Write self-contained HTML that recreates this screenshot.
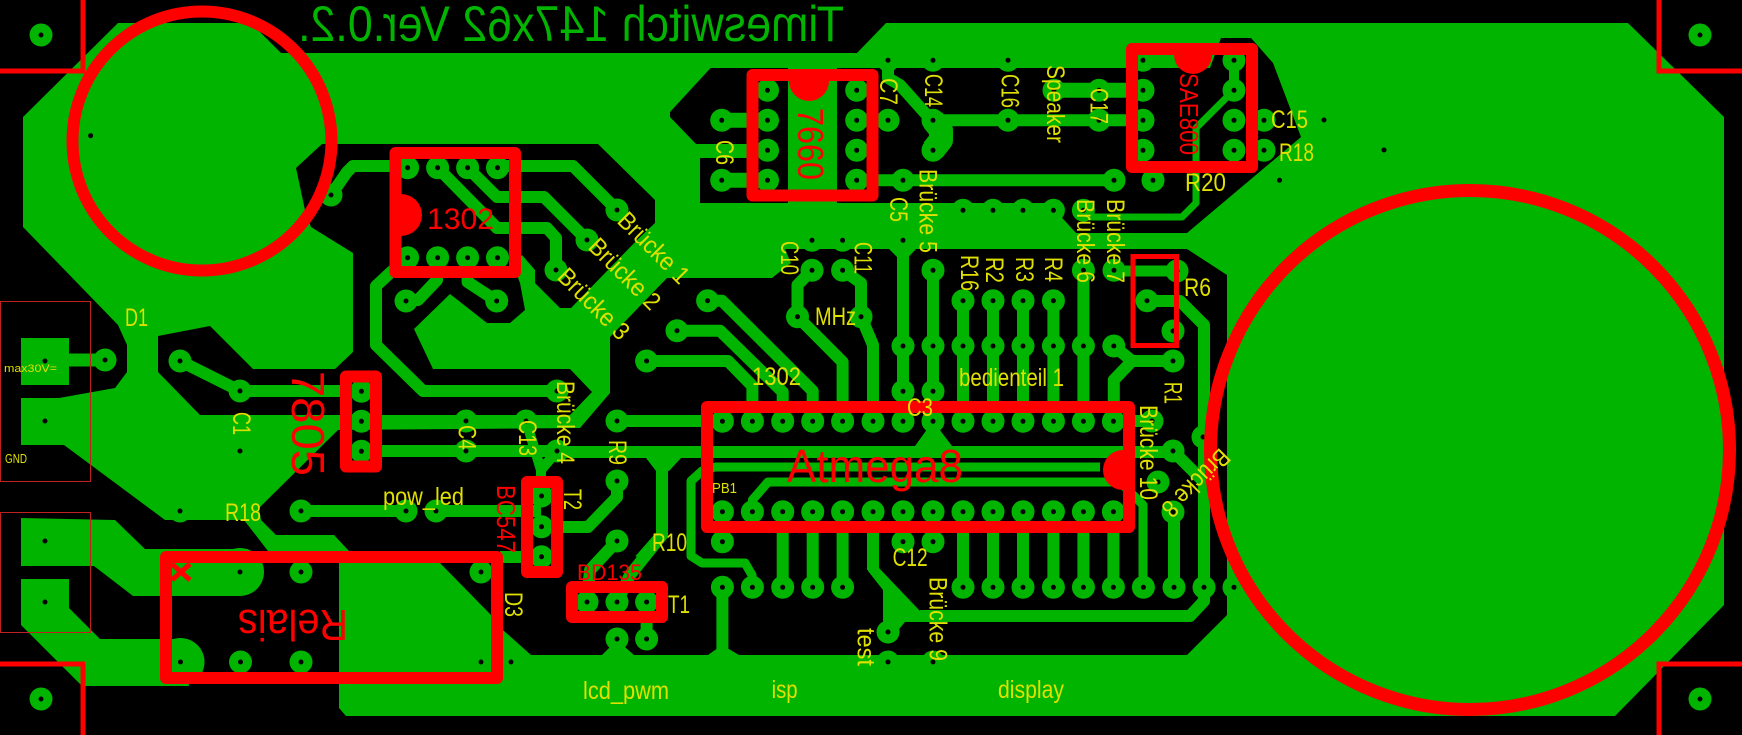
<!DOCTYPE html>
<html><head><meta charset="utf-8"><style>
html,body{margin:0;padding:0;background:#000}
svg{display:block}
text{font-family:"Liberation Sans",sans-serif}
.y{fill:#e0e000;font-size:25px}
.r{fill:#ff0000}
</style></head><body>
<svg width="1742" height="735" viewBox="0 0 1742 735" xmlns="http://www.w3.org/2000/svg">
<rect width="1742" height="735" fill="#000"/>
<!-- pour hull -->
<polygon fill="#00b400" points="118,23 251,23 281,53 857,53 886,23 1628,23 1724,117 1724,605 1615,716 346,716 339,708 339,551 268,551 244,520 165,520 64,445 21,445 21,398 59,398 115,388 127,372 127,345 118,325 23,227 23,117"/>
<!-- cutouts -->
<polygon fill="#000" points="710.6,68 1210,68 1221,38 1251,38 1273,63 1301,137 1187,233 1076,233 1055,210 1050,203 700,203 700,158 750,158 750,144 696,144 670,117 670,112"/>
<polygon fill="#000" points="296,168 322,144 598,144 655,200 655,223 639,238 571,308 560,308 535,283 535,270 522,255 512,262 520,283 525,310 510,323 487,323 450,294 414,329 433,369 570,369 592,392 570,415 338,415 200,415 158,372 158,336 210,326 253,369 335,369 353,352 353,253 311,227 305,210"/>
<polygon fill="#000" points="667,278 772,278 791,263 785,249 889,249 903,263 916,249 1187,249 1227,275 1227,615 1187,655 739,655 722,645 708,655 634,655 617,640 602,655 531,655 503,630 491,615 440,563 339,563 349,551 334,535 276,535 261,520 259,508 338,430 580,428 610,393 610,337"/>
<!-- green strip in 7660 -->
<rect x="788" y="68" width="49" height="135" fill="#00b400"/>
<!-- left pads -->
<rect x="21" y="338" width="48" height="47" fill="#00b400"/>
<polygon fill="#00b400" points="21,518 115,520 145,549 248,549 240,596 133,596 94,566 21,566"/>
<circle cx="240" cy="572" r="24" fill="#00b400"/>
<polygon fill="#00b400" points="21,579 69,579 69,608 100,639 181,639 189,686 82,686 21,625"/>
<circle cx="180.5" cy="662" r="24" fill="#00b400"/>
<polygon fill="#00b400" points="933,421 915,446 952,446"/>
<polygon fill="#00b400" points="646,458 681,458 669,471 656,471"/>
<polygon fill="#00b400" points="868,540 879,540 879,568 920,611 920,622 905,622 890,640 883,621 883,590 868,571"/>
<!-- traces w12 -->
<g fill="none" stroke="#00b400" stroke-width="12" stroke-linejoin="round">
<path d="M331,195L347,172L353,166H407.6M497.5,166H573L617,210"/>
<path d="M437.6,167.7L497,228H547L556,238V270"/>
<path d="M467.6,167.7L497,197H544L587,240"/>
<path d="M437,257V280L418,300L406,301M467.6,257V282L496.7,301"/>
<path d="M407,258L390,273L376,286V345L423,391H557"/>
<path d="M180,361L240,391H361"/>
<path d="M361,451H557"/>
<path d="M301,511H406M436,511H541"/>
<path d="M617,481V497L588,527H541"/>
<path d="M500,557H541"/>
<path d="M526,421L541,470V496M557,451L541,470" stroke-width="10"/>
<path d="M617,421H722"/>
<path d="M557,452H1174L1204,482"/>
<path d="M662,465V535L630,575L617,602" />
<path d="M617,541L590,570L587,602"/>
<path d="M646.6,602V639"/>
<path d="M722.4,587V650"/>
<path d="M707.6,300.7H722L812.7,391V421M677,330.7H720L782.7,392V421M646.6,361H728L752.4,386V421"/>
<path d="M812,270L797.5,285V316.7L842.6,362V421"/>
<path d="M842.6,270L861,283V316.7L873,345V421"/>
<path d="M903,249V421M933,270V421M963,300V421M993,300V421M1023,300V421M1053.4,300V421M1083.4,270V421"/>
<path d="M1113.8,421V380L1132,361H1173M1113.8,346L1132,361"/>
<path d="M782.7,511V587M812.7,511V587M842.6,511V587M873,511V570M963,511V587M993,511V587M1023,511V587M1053.4,511V587M1083.4,511V587M1113.4,511V587M1174,511V587"/>
<path d="M1113,421H1152"/>
<path d="M1147,301H1180L1204,325V601L1190,616H920"/>
<path d="M857,180.3H1114"/>
<path d="M933,120.3H1143"/>
<path d="M1054,90.3H1143" stroke-width="15"/>
<path d="M721.7,120.3H767.5M721.7,180.3H767.5" stroke-width="15"/>
<path d="M888,60V78L900,85L925,113L933,120"/>
<path d="M933,120L941,130V140L933,150" stroke-width="24"/>
<path d="M1234,60V90" stroke-width="10"/>
<path d="M1234,90L1196,128V203L1182,217H1088" stroke-width="7"/>
<path d="M1113,271H1177" stroke-width="11"/>
<path d="M752.4,511V500L768,482H1120L1143,505V587" stroke-width="9"/>
<path d="M752,587V575L745,563H702L691,556V481L702,471L715,467H1100" stroke-width="9"/>
<path d="M105,360H60" stroke-width="13"/>
<path d="M662,535L640,560"/>
</g>
<!-- pads -->
<path fill="none" stroke="#00b400" stroke-width="23" stroke-linecap="round" d="M41,35h.01M1700,35h.01M41,699h.01M1700,699h.01M407.6,167.7h.01M437.6,167.7h.01M467.6,167.7h.01M497.5,167.7h.01M407.6,257.7h.01M437.6,257.7h.01M467.6,257.7h.01M497.5,257.7h.01M331,195h.01M406,301h.01M496.7,301h.01M617,210h.01M587,240h.01M556,270h.01M105,360h.01M180,361h.01M240,391h.01M361.4,391.3h.01M361.4,421.3h.01M361.4,451.3h.01M466,421h.01M526,421h.01M466,451h.01M557,451h.01M557,391h.01M301,511h.01M406,511h.01M436,511h.01M180,511h.01M541.5,496h.01M541.5,526.7h.01M541.5,556.7h.01M587,602h.01M617,602h.01M646.6,602h.01M617,639h.01M646.6,639h.01M617,421h.01M617,481h.01M617,541h.01M646.6,361h.01M677,330.7h.01M707.6,300.7h.01M767.5,90.3h.01M767.5,120.3h.01M767.5,150.3h.01M767.5,180.3h.01M856.7,90.3h.01M856.7,120.3h.01M856.7,150.3h.01M856.7,180.3h.01M721.7,120.3h.01M721.7,180.3h.01M888,120.3h.01M903,180.3h.01M1114,180.3h.01M1153,180.3h.01M888,60.3h.01M933,60.3h.01M1008,60.3h.01M1143,60.3h.01M933,120.3h.01M1008,120.3h.01M1099,120.3h.01M1099,90.3h.01M1054,90.3h.01M933,150.3h.01M1143,90.3h.01M1143,120.3h.01M1143,150.3h.01M1234,60.3h.01M1234,90.3h.01M1234,120.3h.01M1234,150.3h.01M1264,120.3h.01M1264,150.3h.01M963,210.3h.01M993,210.3h.01M1023,210.3h.01M1053.4,210.3h.01M1083.4,210.3h.01M812,240.3h.01M842.6,240.3h.01M903,240.3h.01M812,270.3h.01M842.6,270.3h.01M933,270.3h.01M1083.4,270.3h.01M1114,270.3h.01M1177,271h.01M1147,300.7h.01M963,300.7h.01M993,300.7h.01M1023,300.7h.01M1053.4,300.7h.01M1173,331h.01M1173,361h.01M797.5,316.7h.01M861,316.7h.01M903,346h.01M933,346h.01M963,346h.01M993,346h.01M1023,346h.01M1053.4,346h.01M1083.4,346h.01M1113.8,346h.01M903,391.3h.01M933,391.3h.01M722.4,421.3h.01M752.4,421.3h.01M782.7,421.3h.01M812.7,421.3h.01M842.6,421.3h.01M873,421.3h.01M903,421.3h.01M933,421.3h.01M963,421.3h.01M993,421.3h.01M1023,421.3h.01M1053.4,421.3h.01M1083.4,421.3h.01M1113.4,421.3h.01M722.4,511.7h.01M752.4,511.7h.01M782.7,511.7h.01M812.7,511.7h.01M842.6,511.7h.01M873,511.7h.01M903,511.7h.01M933,511.7h.01M963,511.7h.01M993,511.7h.01M1023,511.7h.01M1053.4,511.7h.01M1083.4,511.7h.01M1113.4,511.7h.01M722.4,541.7h.01M903,541.7h.01M933,541.7h.01M722.4,587.3h.01M752.4,587.3h.01M782.7,587.3h.01M812.7,587.3h.01M842.6,587.3h.01M963,587.3h.01M993,587.3h.01M1023,587.3h.01M1053.4,587.3h.01M1083.4,587.3h.01M1113.4,587.3h.01M1143.4,587.3h.01M1174,587.3h.01M1204,587.3h.01M1234,587.3h.01M888,632h.01M888,662h.01M933,662h.01M1152,421h.01M1203,437h.01M1173,451h.01M1158,482h.01M1173,512h.01M301,572h.01M481,572h.01M240.5,662h.01M301,662h.01"/>
<!-- holes -->
<path fill="none" stroke="#000" stroke-width="5" stroke-linecap="round" d="M41,35h.01M1700,35h.01M41,699h.01M1700,699h.01M407.6,167.7h.01M437.6,167.7h.01M467.6,167.7h.01M497.5,167.7h.01M407.6,257.7h.01M437.6,257.7h.01M467.6,257.7h.01M497.5,257.7h.01M331,195h.01M406,301h.01M496.7,301h.01M617,210h.01M587,240h.01M556,270h.01M105,360h.01M180,361h.01M240,391h.01M361.4,391.3h.01M361.4,421.3h.01M361.4,451.3h.01M466,421h.01M526,421h.01M466,451h.01M557,451h.01M557,391h.01M301,511h.01M406,511h.01M436,511h.01M180,511h.01M541.5,496h.01M541.5,526.7h.01M541.5,556.7h.01M587,602h.01M617,602h.01M646.6,602h.01M617,639h.01M646.6,639h.01M617,421h.01M617,481h.01M617,541h.01M646.6,361h.01M677,330.7h.01M707.6,300.7h.01M767.5,90.3h.01M767.5,120.3h.01M767.5,150.3h.01M767.5,180.3h.01M856.7,90.3h.01M856.7,120.3h.01M856.7,150.3h.01M856.7,180.3h.01M721.7,120.3h.01M721.7,180.3h.01M888,120.3h.01M903,180.3h.01M1114,180.3h.01M1153,180.3h.01M888,60.3h.01M933,60.3h.01M1008,60.3h.01M1143,60.3h.01M933,120.3h.01M1008,120.3h.01M1099,120.3h.01M1099,90.3h.01M1054,90.3h.01M933,150.3h.01M1143,90.3h.01M1143,120.3h.01M1143,150.3h.01M1234,60.3h.01M1234,90.3h.01M1234,120.3h.01M1234,150.3h.01M1264,120.3h.01M1264,150.3h.01M963,210.3h.01M993,210.3h.01M1023,210.3h.01M1053.4,210.3h.01M1083.4,210.3h.01M812,240.3h.01M842.6,240.3h.01M903,240.3h.01M812,270.3h.01M842.6,270.3h.01M933,270.3h.01M1083.4,270.3h.01M1114,270.3h.01M1177,271h.01M1147,300.7h.01M963,300.7h.01M993,300.7h.01M1023,300.7h.01M1053.4,300.7h.01M1173,331h.01M1173,361h.01M797.5,316.7h.01M861,316.7h.01M903,346h.01M933,346h.01M963,346h.01M993,346h.01M1023,346h.01M1053.4,346h.01M1083.4,346h.01M1113.8,346h.01M903,391.3h.01M933,391.3h.01M722.4,421.3h.01M752.4,421.3h.01M782.7,421.3h.01M812.7,421.3h.01M842.6,421.3h.01M873,421.3h.01M903,421.3h.01M933,421.3h.01M963,421.3h.01M993,421.3h.01M1023,421.3h.01M1053.4,421.3h.01M1083.4,421.3h.01M1113.4,421.3h.01M722.4,511.7h.01M752.4,511.7h.01M782.7,511.7h.01M812.7,511.7h.01M842.6,511.7h.01M873,511.7h.01M903,511.7h.01M933,511.7h.01M963,511.7h.01M993,511.7h.01M1023,511.7h.01M1053.4,511.7h.01M1083.4,511.7h.01M1113.4,511.7h.01M722.4,541.7h.01M903,541.7h.01M933,541.7h.01M722.4,587.3h.01M752.4,587.3h.01M782.7,587.3h.01M812.7,587.3h.01M842.6,587.3h.01M963,587.3h.01M993,587.3h.01M1023,587.3h.01M1053.4,587.3h.01M1083.4,587.3h.01M1113.4,587.3h.01M1143.4,587.3h.01M1174,587.3h.01M1204,587.3h.01M1234,587.3h.01M888,632h.01M888,662h.01M933,662h.01M1152,421h.01M1203,437h.01M1173,451h.01M1158,482h.01M1173,512h.01M240,572h.01M301,572h.01M481,572h.01M180.5,662h.01M240.5,662h.01M301,662h.01M481,662h.01M511,662h.01M45,361h.01M45,421h.01M45,541h.01M45,602h.01M240,451h.01M90.6,135.7h.01M1324,120h.01M1384,150h.01M1279.5,180.3h.01"/>
<!-- thin boxes -->
<rect x="0.5" y="301.5" width="90" height="180" fill="none" stroke="#c02020" stroke-width="1"/>
<rect x="0.5" y="512.5" width="90" height="120" fill="none" stroke="#c02020" stroke-width="1"/>
<!-- red -->
<g fill="none" stroke="#ff0000">
<circle cx="202" cy="141" r="129.5" stroke-width="12"/>
<circle cx="1470" cy="450" r="259.5" stroke-width="13"/>
<g stroke-width="5">
<path d="M0,71H85M83,0V71M1742,71H1659V0M0,664H85M83,664V735M1742,664H1659V735"/>
<rect x="1133" y="256.5" width="43.5" height="89"/>
</g>
<g stroke-width="12" stroke-linejoin="round">
<rect x="395.5" y="153" width="119.5" height="119"/>
<rect x="346" y="376.5" width="30" height="90"/>
<rect x="527" y="482" width="30" height="90"/>
<rect x="166" y="557" width="331" height="121"/>
<rect x="752.5" y="75" width="120" height="120.5"/>
<rect x="1132" y="49" width="120" height="118"/>
<rect x="572" y="587" width="90" height="30"/>
<rect x="707" y="407" width="422" height="120"/>
</g>
<path d="M172,564L190,580M190,564L172,580" stroke-width="5"/>
</g>
<g fill="#ff0000">
<path d="M401,194A21,21 0 0 1 401,236Z"/>
<path d="M789,81A20,20 0 0 0 829,81Z"/>
<path d="M1174,55A19,19 0 0 0 1212,55Z"/>
<path d="M1123,450A20,20 0 0 0 1123,490Z"/>
</g>
<!-- red text -->
<text class="r" font-size="30" x="427" y="229" textLength="67" lengthAdjust="spacingAndGlyphs">1302</text>
<text class="r" font-size="46" x="787" y="482" textLength="176" lengthAdjust="spacingAndGlyphs">Atmega8</text>
<text class="r" font-size="22" x="577" y="580" textLength="65" lengthAdjust="spacingAndGlyphs">BD135</text>
<text class="r" font-size="46" transform="translate(292,371) rotate(90)" textLength="105" lengthAdjust="spacingAndGlyphs">7805</text>
<text class="r" font-size="36" transform="translate(798,108) rotate(90)" textLength="72" lengthAdjust="spacingAndGlyphs">7660</text>
<text class="r" font-size="26" transform="translate(1180,73) rotate(90)" textLength="82" lengthAdjust="spacingAndGlyphs">SAE800</text>
<text class="r" font-size="26" transform="translate(497,485) rotate(90)" textLength="68" lengthAdjust="spacingAndGlyphs">BC547</text>
<text class="r" font-size="44" transform="translate(348,610) rotate(180)" textLength="110" lengthAdjust="spacingAndGlyphs">Relais</text>
<!-- mirrored title -->
<text fill="#00b400" font-size="50" transform="translate(844,41) scale(-1,1)" textLength="546" lengthAdjust="spacingAndGlyphs">Timeswitch 147x62 Ver.0.2.</text>
<!-- labels -->
<g class="y">
<text class="y" x="125" y="326" textLength="23" lengthAdjust="spacingAndGlyphs">D1</text>
<text class="y" x="225" y="521" textLength="36" lengthAdjust="spacingAndGlyphs">R18</text>
<text class="y" x="383" y="505" textLength="81" lengthAdjust="spacingAndGlyphs">pow_led</text>
<text class="y" x="815" y="325" textLength="41" lengthAdjust="spacingAndGlyphs">MHz</text>
<text class="y" x="752" y="385" textLength="49" lengthAdjust="spacingAndGlyphs">1302</text>
<text class="y" x="959" y="386" textLength="105" lengthAdjust="spacingAndGlyphs">bedienteil 1</text>
<text class="y" x="907" y="416" textLength="26" lengthAdjust="spacingAndGlyphs">C3</text>
<text class="y" x="892.6" y="566" textLength="35" lengthAdjust="spacingAndGlyphs">C12</text>
<text class="y" x="652" y="551" textLength="35" lengthAdjust="spacingAndGlyphs">R10</text>
<text class="y" x="668" y="613" textLength="22" lengthAdjust="spacingAndGlyphs">T1</text>
<text class="y" x="583" y="699" textLength="86" lengthAdjust="spacingAndGlyphs">lcd_pwm</text>
<text class="y" x="771.6" y="698" textLength="26" lengthAdjust="spacingAndGlyphs">isp</text>
<text class="y" x="998" y="698" textLength="66" lengthAdjust="spacingAndGlyphs">display</text>
<text class="y" x="1185" y="191" textLength="41" lengthAdjust="spacingAndGlyphs">R20</text>
<text class="y" x="1271" y="128" textLength="37" lengthAdjust="spacingAndGlyphs">C15</text>
<text class="y" x="1279" y="161" textLength="35" lengthAdjust="spacingAndGlyphs">R18</text>
<text class="y" x="1184" y="296" textLength="27" lengthAdjust="spacingAndGlyphs">R6</text>
<text class="y" style="font-size:15px" x="712" y="493" textLength="25" lengthAdjust="spacingAndGlyphs">PB1</text>
<text class="y" style="font-size:11px" x="4" y="372" textLength="53" lengthAdjust="spacingAndGlyphs">max30V=</text>
<text class="y" style="font-size:13px" x="5" y="463" textLength="22" lengthAdjust="spacingAndGlyphs">GND</text>
<text class="y" transform="translate(716,140) rotate(90)" textLength="25" lengthAdjust="spacingAndGlyphs">C6</text>
<text class="y" transform="translate(880,78) rotate(90)" textLength="27" lengthAdjust="spacingAndGlyphs">C7</text>
<text class="y" transform="translate(925,74) rotate(90)" textLength="33" lengthAdjust="spacingAndGlyphs">C14</text>
<text class="y" transform="translate(1001.7,74) rotate(90)" textLength="34" lengthAdjust="spacingAndGlyphs">C16</text>
<text class="y" transform="translate(1047,65) rotate(90)" textLength="78" lengthAdjust="spacingAndGlyphs">Speaker</text>
<text class="y" transform="translate(1090.5,88) rotate(90)" textLength="36" lengthAdjust="spacingAndGlyphs">C17</text>
<text class="y" transform="translate(890,197) rotate(90)" textLength="25" lengthAdjust="spacingAndGlyphs">C5</text>
<text class="y" transform="translate(919.6,169) rotate(90)" textLength="84" lengthAdjust="spacingAndGlyphs">Brücke 5</text>
<text class="y" transform="translate(1076.8,199) rotate(90)" textLength="84" lengthAdjust="spacingAndGlyphs">Brücke 6</text>
<text class="y" transform="translate(1107,199) rotate(90)" textLength="84" lengthAdjust="spacingAndGlyphs">Brücke 7</text>
<text class="y" transform="translate(781,241) rotate(90)" textLength="34" lengthAdjust="spacingAndGlyphs">C10</text>
<text class="y" transform="translate(854.5,242) rotate(90)" textLength="32" lengthAdjust="spacingAndGlyphs">C11</text>
<text class="y" transform="translate(961,255) rotate(90)" textLength="36" lengthAdjust="spacingAndGlyphs">R16</text>
<text class="y" transform="translate(986,257) rotate(90)" textLength="26" lengthAdjust="spacingAndGlyphs">R2</text>
<text class="y" transform="translate(1016,257) rotate(90)" textLength="25" lengthAdjust="spacingAndGlyphs">R3</text>
<text class="y" transform="translate(1045,257) rotate(90)" textLength="25" lengthAdjust="spacingAndGlyphs">R4</text>
<text class="y" transform="translate(1164.5,382) rotate(90)" textLength="22" lengthAdjust="spacingAndGlyphs">R1</text>
<text class="y" transform="translate(233,412) rotate(90)" textLength="23" lengthAdjust="spacingAndGlyphs">C1</text>
<text class="y" transform="translate(458.7,425) rotate(90)" textLength="25" lengthAdjust="spacingAndGlyphs">C4</text>
<text class="y" transform="translate(519,420) rotate(90)" textLength="36" lengthAdjust="spacingAndGlyphs">C13</text>
<text class="y" transform="translate(557,381) rotate(90)" textLength="83" lengthAdjust="spacingAndGlyphs">Brücke 4</text>
<text class="y" transform="translate(609,440) rotate(90)" textLength="25" lengthAdjust="spacingAndGlyphs">R9</text>
<text class="y" transform="translate(564,489) rotate(90)" textLength="21" lengthAdjust="spacingAndGlyphs">T2</text>
<text class="y" transform="translate(505,592) rotate(90)" textLength="25" lengthAdjust="spacingAndGlyphs">D3</text>
<text class="y" transform="translate(1140,405) rotate(90)" textLength="95" lengthAdjust="spacingAndGlyphs">Brücke 10</text>
<text class="y" transform="translate(929.6,577) rotate(90)" textLength="84" lengthAdjust="spacingAndGlyphs">Brücke 9</text>
<text class="y" transform="translate(857.4,628) rotate(90)" textLength="38" lengthAdjust="spacingAndGlyphs">test</text>
<text class="y" transform="translate(616,222) rotate(45)" textLength="90" lengthAdjust="spacingAndGlyphs">Brücke 1</text>
<text class="y" transform="translate(587,248) rotate(45)" textLength="90" lengthAdjust="spacingAndGlyphs">Brücke 2</text>
<text class="y" transform="translate(556,278) rotate(45)" textLength="90" lengthAdjust="spacingAndGlyphs">Brücke 3</text>
<text class="y" transform="translate(1220,447) rotate(135)" textLength="85" lengthAdjust="spacingAndGlyphs">Brücke 8</text>
</g>
</svg>
</body></html>
